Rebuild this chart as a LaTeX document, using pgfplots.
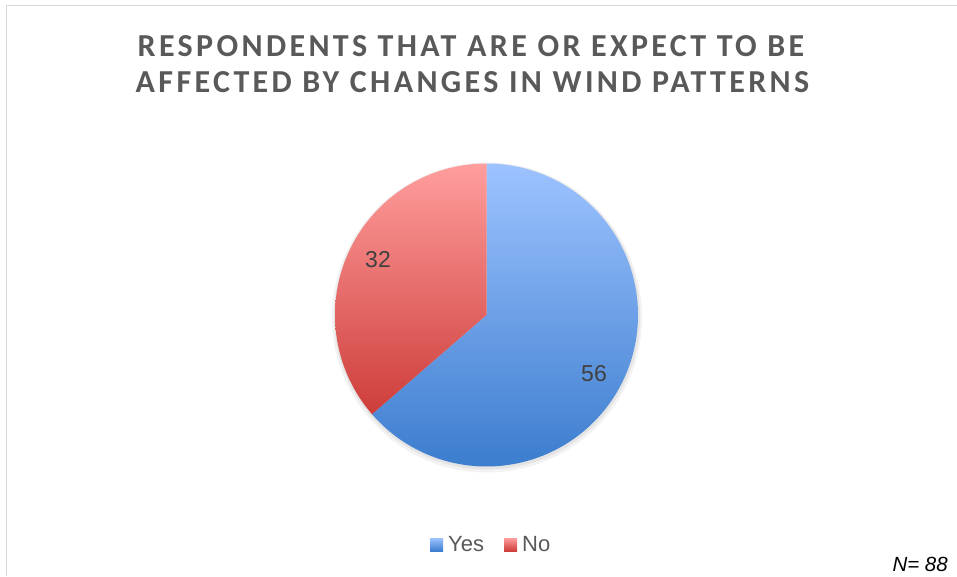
\documentclass[border=0pt]{standalone}
\usepackage{pgfplots}
\pgfplotsset{compat=1.18}
\usepackage{pgfplotstable}
\usepackage{fontspec}
\setmainfont{Liberation Sans}
\newfontfamily\titlefont[LetterSpace=10.5]{Carlito}
\definecolor{titlegray}{HTML}{595959}
\definecolor{labelgray}{HTML}{404040}
\definecolor{framegray}{HTML}{D9D9D9}
\definecolor{yesTop}{HTML}{9DC3FF}
\definecolor{yesBot}{HTML}{3C7DCE}
\definecolor{noTop}{HTML}{FF9E9D}
\definecolor{noBot}{HTML}{CD3D3A}

\pgfplotstableread{
label value
Yes 56
No 32
}\piedata

\begin{document}%
\begin{tikzpicture}
\pgfplotstablegetelem{0}{value}\of\piedata \let\vyes\pgfplotsretval
\pgfplotstablegetelem{1}{value}\of\piedata \let\vno\pgfplotsretval
\pgfmathsetmacro\total{\vyes+\vno}
\pgfmathsetmacro\frac{\vyes/\total}
\pgfmathsetmacro\angyes{90-360*\frac}
\pgfmathsetmacro\angend{360+\angyes}
\begin{axis}[at={(0,0)}, anchor=south west, scale only axis,
  width=957pt, height=576pt, xmin=0, xmax=957, ymin=0, ymax=576,
  hide axis, clip=false]
% soft shadow
\fill[black, opacity=0.05] (axis cs:487,258.5) circle (155pt);
\fill[black, opacity=0.06] (axis cs:487,259.5) circle (153pt);
% slices
\addplot[draw=none, top color=yesTop, bottom color=yesBot,
  domain=\angyes:90, samples=200, variable=\t]
  ({486.5+151.5*cos(\t)}, {261+151.5*sin(\t)}) -- (axis cs:486.5,261) -- cycle;
\addplot[draw=none, top color=noTop, bottom color=noBot,
  domain=90:\angend, samples=150, variable=\t]
  ({486.5+151.5*cos(\t)}, {261+151.5*sin(\t)}) -- (axis cs:486.5,261) -- cycle;
% data labels
\node[text=labelgray, font=\fontsize{23}{27}\selectfont, inner sep=0pt] at (axis cs:594,202) {\vyes};
\node[text=labelgray, font=\fontsize{23}{27}\selectfont, inner sep=0pt] at (axis cs:378,316) {\vno};
% title
\node[anchor=base, text=titlegray, inner sep=0pt, font=\titlefont\bfseries\fontsize{32}{36}\selectfont] at (axis cs:471,519) {RESPONDENTS THAT ARE OR EXPECT TO BE};
\node[anchor=base, text=titlegray, inner sep=0pt, font=\titlefont\bfseries\fontsize{32}{36}\selectfont] at (axis cs:472.5,483) {AFFECTED BY CHANGES IN WIND PATTERNS};
% legend
\shade[top color=yesTop, bottom color=yesBot] (axis cs:430,25) rectangle (axis cs:443,38);
\node[anchor=base west, text=titlegray, inner sep=0pt, font=\fontsize{22}{26}\selectfont] at (axis cs:448,24.3) {Yes};
\shade[top color=noTop, bottom color=noBot] (axis cs:504,25) rectangle (axis cs:517,38);
\node[anchor=base west, text=titlegray, inner sep=0pt, font=\fontsize{22}{26}\selectfont] at (axis cs:522,24.3) {No};
% N
\node[anchor=base east, text=black, inner sep=0pt, font=\itshape\fontsize{20.5}{24}\selectfont] at (axis cs:948,4.5) {N= 88};
% frame
\draw[framegray, line width=1.5pt] (axis cs:6.5,0) -- (axis cs:6.5,570.5) -- (axis cs:957,570.5);
\end{axis}
\pgfresetboundingbox
\path[use as bounding box] (0,0) rectangle (957pt,576pt);
\end{tikzpicture}%
\end{document}
